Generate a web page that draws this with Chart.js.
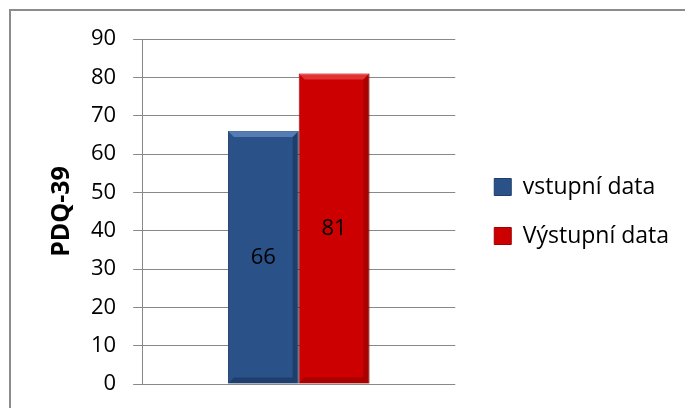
<!DOCTYPE html>
<html>
<head>
    <meta charset="utf-8">
    <title>PDQ-39</title>
    <script src="https://cdn.jsdelivr.net/npm/chart.js"></script>
    <style>
        html, body { margin: 0; padding: 0; background: white; overflow: hidden; }
        .frame { position: absolute; left: 9px; top: 9px; width: 720px; height: 440px; border: 2px solid #8c8c8c; box-sizing: border-box; }
        .wrap { position: absolute; left: 0; top: 0; width: 685px; height: 408px; }
    </style>
</head>
<body>
    <div class="frame"></div>
    <div class="wrap">
        <canvas id="chart" width="685" height="408"></canvas>
    </div>

    <script>
        const categories = [''];
        const seriesNames = ['vstupní data', 'Výstupní data'];
        const seriesValues = [[66], [81]];
        const seriesColors = ['#2a5288', '#cc0000'];
        const borderColors = ['#1f3f6a', '#a00000'];
        const bevelLight = ['rgba(120,160,215,0.55)', 'rgba(255,110,110,0.45)'];
        const bevelDark = ['rgba(10,30,60,0.35)', 'rgba(90,0,0,0.3)'];
        const yTicks = { min: 0, max: 90, step: 10 };
        const yTitle = 'PDQ-39';

        const FONT = "'Open Sans', sans-serif";

        // zkoseni hran sloupcu (jako v Excelu)
        const barBevel = {
            id: 'barBevel',
            afterDatasetsDraw(chart) {
                const ctx = chart.ctx;
                const b = 6;
                ctx.save();
                chart.data.datasets.forEach((ds, i) => {
                    chart.getDatasetMeta(i).data.forEach(bar => {
                        const l = bar.x - bar.width / 2, r = bar.x + bar.width / 2;
                        const t = bar.y, bt = bar.base;
                        ctx.fillStyle = bevelLight[i];
                        ctx.beginPath();
                        ctx.moveTo(l, t); ctx.lineTo(r, t); ctx.lineTo(r - b, t + b); ctx.lineTo(l + b, t + b);
                        ctx.closePath(); ctx.fill();
                        ctx.fillStyle = bevelDark[i];
                        ctx.beginPath();
                        ctx.moveTo(r, t); ctx.lineTo(r, bt); ctx.lineTo(r - b, bt - b); ctx.lineTo(r - b, t + b);
                        ctx.closePath(); ctx.fill();
                        ctx.beginPath();
                        ctx.moveTo(l, bt); ctx.lineTo(r, bt); ctx.lineTo(r - b, bt - b); ctx.lineTo(l + b, bt - b);
                        ctx.closePath(); ctx.fill();
                    });
                });
                ctx.restore();
            }
        };

        // hodnoty uprostred sloupcu
        const barLabels = {
            id: 'barLabels',
            afterDatasetsDraw(chart) {
                const ctx = chart.ctx;
                ctx.save();
                ctx.font = '22px ' + FONT;
                ctx.fillStyle = '#000';
                ctx.textAlign = 'center';
                ctx.textBaseline = 'middle';
                chart.data.datasets.forEach((ds, i) => {
                    chart.getDatasetMeta(i).data.forEach((bar, j) => {
                        const y = (bar.y + bar.base) / 2;
                        ctx.fillText(ds.data[j], bar.x, y);
                    });
                });
                ctx.restore();
            }
        };

        // legenda je uzsi nez text, posun doprava a rozsireni
        const legendShift = {
            id: 'legendShift',
            afterLayout(chart) {
                const lg = chart.legend;
                if (!lg) return;
                lg.left += 13;
                lg.right = chart.width;
                lg.width = lg.right - lg.left;
            }
        };

        const ctx = document.getElementById('chart').getContext('2d');
        new Chart(ctx, {
            type: 'bar',
            data: {
                labels: categories,
                datasets: seriesNames.map((name, i) => ({
                    label: name,
                    data: seriesValues[i],
                    backgroundColor: seriesColors[i],
                    borderColor: borderColors[i],
                    borderWidth: 1,
                    categoryPercentage: 0.452,
                    barPercentage: 1
                }))
            },
            options: {
                responsive: false,
                animation: false,
                layout: { padding: { left: 45, right: 93, top: 39, bottom: 24 } },
                plugins: {
                    legend: {
                        position: 'right',
                        labels: {
                            color: '#000',
                            font: { family: FONT, size: 23 },
                            boxWidth: 17,
                            boxHeight: 17,
                            padding: 26
                        }
                    },
                    tooltip: { enabled: false }
                },
                scales: {
                    x: {
                        display: false
                    },
                    y: {
                        min: yTicks.min,
                        max: yTicks.max,
                        ticks: {
                            stepSize: yTicks.step,
                            color: '#000',
                            padding: 17,
                            font: { family: FONT, size: 22, lineHeight: 0.5 }
                        },
                        grid: { color: '#888888', lineWidth: 1, tickLength: 9 },
                        border: { color: '#888888', width: 1 },
                        title: {
                            display: true,
                            text: yTitle,
                            color: '#000',
                            padding: { top: 4, bottom: 0 },
                            font: { family: FONT, size: 25, weight: 'bold', lineHeight: 1 }
                        }
                    }
                }
            },
            plugins: [barBevel, barLabels, legendShift]
        });
    </script>
</body>
</html>
